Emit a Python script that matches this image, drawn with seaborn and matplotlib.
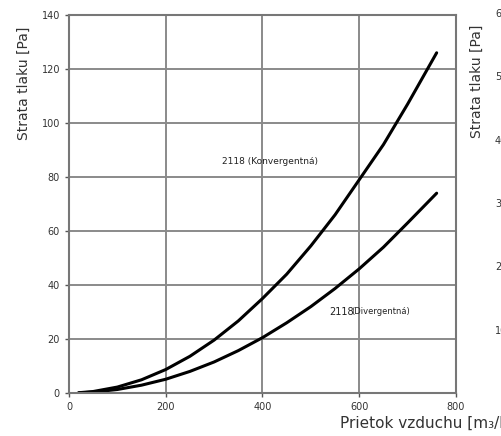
import pandas as pd
import seaborn as sns
import matplotlib.pyplot as plt

# values
flow = [20, 50, 100, 150, 200, 250, 300, 350, 400, 450, 500, 550, 600, 650, 700, 760]
konv = [0.1, 0.55, 2.2, 4.9, 8.7, 13.6, 19.6, 26.7, 35, 44, 54.5, 66, 79, 92, 107, 126]
div = [0.05, 0.32, 1.3, 2.9, 5.1, 8, 11.5, 15.7, 20.5, 26, 32, 38.7, 46, 54, 63, 74]

x_ticks = [0, 200, 400, 600, 800]
y_ticks = [0, 20, 40, 60, 80, 100, 120, 140]
y2_ticks = [0, 10, 20, 30, 40, 50, 60]

df = pd.DataFrame({'flow': flow * 2,
                   'loss': konv + div,
                   'typ': ['konv'] * len(flow) + ['div'] * len(flow)})

sns.set_style('white')
plt.rcParams['font.family'] = ['DejaVu Sans']

fig = plt.figure(figsize=(5.02, 4.36), dpi=100)
ax = fig.add_axes([69 / 502, 43 / 436, 387 / 502, 378 / 436])

sns.lineplot(data=df, x='flow', y='loss', units='typ', estimator=None,
             color='black', linewidth=2.2, ax=ax)

ax.set_xlim(0, 800)
ax.set_ylim(0, 140)
ax.set_xticks(x_ticks)
ax.set_yticks(y_ticks)
ax.grid(True, color='#8a8a8a', linewidth=1.4)
ax.set_axisbelow(True)
for s in ax.spines.values():
    s.set_color('#777777')
    s.set_linewidth(1.5)
ax.tick_params(axis='both', labelsize=7, colors='#555555', length=3,
               width=1, direction='out', left=True, bottom=True)
ax.tick_params(labelcolor='#333333')

ax.set_xlabel('Prietok vzduchu [m₃/h]', fontsize=11, color='#333333', ha='left')
ax.xaxis.set_label_coords(0.70, -0.06)
ax.set_ylabel('Strata tlaku [Pa]', fontsize=10, color='#333333')
ax.yaxis.set_label_coords(-0.098, 0.82)

ax.text(316, 85, '2118 (Konvergentná)', fontsize=6.5, color='#222222')
ax.text(538, 29, '2118', fontsize=7, color='#222222')
ax.text(584, 29.3, '(Divergentná)', fontsize=6, color='#222222')

# second chart, cut off at the right edge
ax2 = fig.add_axes([512 / 502, 43 / 436, 300 / 502, 380 / 436])
ax2.set_ylim(0, 60)
ax2.set_yticks(y2_ticks)
ax2.set_xticks([])
for s in ax2.spines.values():
    s.set_visible(False)
ax2.tick_params(axis='y', labelsize=7, labelcolor='#333333', length=0)
ax2.set_ylabel('Strata tlaku [Pa]', fontsize=10, color='#333333')
ax2.yaxis.set_label_coords(-0.093, 0.82)

fig.savefig('out.png', dpi=100)
